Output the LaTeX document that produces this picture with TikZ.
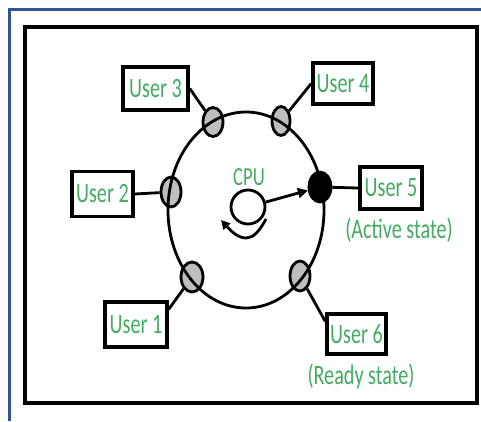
\documentclass[tikz,border=0pt]{standalone}
\usepackage{fontspec}
\newfontfamily\narrowfont[FakeStretch=0.72]{Carlito}
\usetikzlibrary{shapes.geometric,arrows.meta}
\definecolor{frameblue}{RGB}{47,85,151}
\definecolor{labelgreen}{RGB}{68,170,100}
\definecolor{slotgray}{RGB}{190,190,190}
\tikzset{
  userbox/.style={draw=black, line width=3.5pt, fill=white, inner sep=0pt,
    text=labelgreen, font=\narrowfont\fontsize{28}{31}\selectfont},
  slot/.style={ellipse, draw=black, line width=2.8pt, fill=slotgray, inner sep=0pt,
    minimum width=20pt, minimum height=29pt},
  wire/.style={line width=2.8pt, black},
  note/.style={text=labelgreen, inner sep=0pt, font=\narrowfont\fontsize{28}{31}\selectfont},
}
\begin{document}
\begin{tikzpicture}[x=1pt, y=-1pt]
\useasboundingbox (0,0) rectangle (481,421);
\fill[white] (0,0) rectangle (481,421);

% outer page border and inner black frame
\draw[frameblue, line width=3pt] (9,421) -- (9,9) -- (481,9);
\draw[line width=4.5pt] (25,27) rectangle (477,403);

% user slots on the ring
\node[slot] (e3) at (213,122) {};
\node[slot, minimum width=18pt] (e4) at (281,121) {};
\node[slot, minimum height=30pt] (e2) at (171,192) {};
\node[slot, fill=black, minimum width=22pt, minimum height=30pt] (e5) at (320,187) {};
\node[slot, minimum width=22pt, minimum height=30pt] (e1) at (192,277) {};
\node[slot, minimum height=30pt] (e6) at (300,276) {};

% the ring
\draw[wire] (246,210) ellipse [x radius=78pt, y radius=98pt];

% user boxes
\node[userbox, minimum width=65pt, minimum height=43pt] (u3) at (155.5,88.5) {User 3};
\node[userbox, minimum width=60pt, minimum height=41pt] (u4) at (343,83.5) {User 4};
\node[userbox, minimum width=61pt, minimum height=45pt] (u2) at (102.5,194) {User 2};
\node[userbox, minimum width=62pt, minimum height=42pt] (u5) at (391,188) {User 5};
\node[userbox, minimum width=62pt, minimum height=45pt] (u1) at (136,324.5) {User 1};
\node[userbox, minimum width=59pt, minimum height=40pt] (u6) at (356.5,334) {User 6};

\node[note] (act) at (399,230) {(Active state)};
\node[note] (rdy) at (361,377) {(Ready state)};

% connectors from boxes to slots
\draw[wire] (u3.east) -- (e3);
\draw[wire] (u4.west) -- (e4);
\draw[wire] (u2.east) -- (e2);
\draw[wire] (e5) -- (u5.west);
\draw[wire] (u1.25) -- (e1);
\draw[wire] (u6.158) -- (e6);

% CPU and its pointer to the active user
\node[circle, draw=black, line width=2.8pt, fill=white, minimum size=34pt, inner sep=0pt] (cpu) at (248,207) {};
\node[note, font=\narrowfont\fontsize{26}{29}\selectfont] (cpulbl) at (249,177) {CPU};
\draw[wire, -{Triangle[length=10pt, width=10pt]}] (cpu) -- (e5);

% rotation mark below the CPU
\coordinate (r0) at (266,219);
\coordinate (r1) at (246,238);
\coordinate (r2) at (221,220);
\draw[wire, -{Triangle[length=9pt, width=9pt]}] (r0) .. controls (259,232) and (253,238) .. (r1)
  .. controls (238,238) and (231,231) .. (r2);
\end{tikzpicture}
\end{document}
